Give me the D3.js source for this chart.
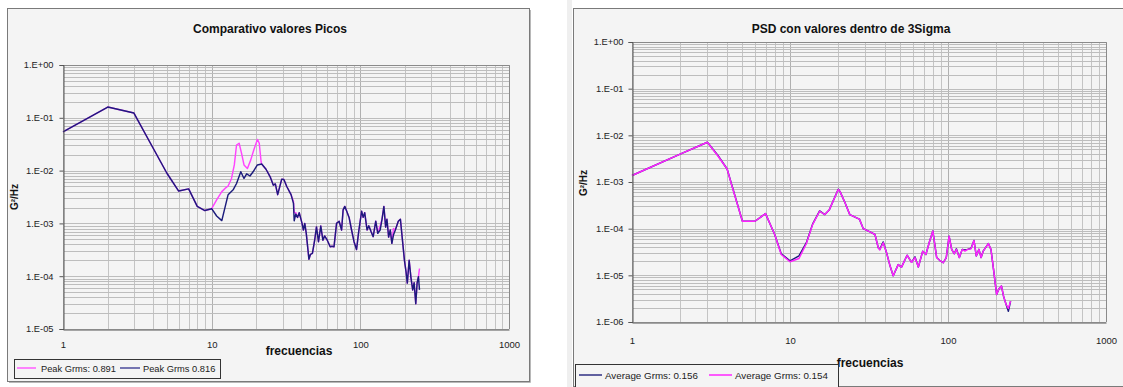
<!DOCTYPE html>
<html><head><meta charset="utf-8">
<script src="https://cdn.jsdelivr.net/npm/d3@7/dist/d3.min.js"></script>
<style>
body{margin:0;background:#fff;}
svg{display:block;font-family:"Liberation Sans",Arial,sans-serif;}
</style>
</head><body>
<svg id="c" width="1123" height="387"></svg>
<script>
// ---------- shared axis data ----------
const xTicks = [1, 10, 100, 1000];
const xTickLabels = ["1", "10", "100", "1000"];

// ---------- left chart: Comparativo valores Picos ----------
const leftYTicks = [1, 0.1, 0.01, 0.001, 0.0001, 0.00001];
const leftYTickLabels = ["1.E+00", "1.E-01", "1.E-02", "1.E-03", "1.E-04", "1.E-05"];

const leftPinkFreq = [1,2,3,4,5,6,7,8,9,10,10.8,11.7,12.3,12.9,13.6,14.2,14.7,15.3,15.9,16.5,17.4,18.3,19.2,20.3,20.9,21.5,21.7,
  23.2,24.7,26,26.8,27.8,29.6,30.6,32,34.2,35.5,35.9,36.8,37.8,38.8,40.5,41.4,42.3,43.3,45.1,46.2,47.6,49.3,50.7,52.3,54.2,56,57.5,59.5,
  62.7,64.5,66.5,69.2,72,74.8,76.6,78.6,81,84,87.3,90.7,94.3,97.5,102,104.5,107,111,114,118,122,127,131,136,140,144,148,151,155,159,
  163,167,172,180,186,194,198,203,207,213,219,225,230,236,241,246,250];
const leftPinkVal = [0.054,0.16,0.123,0.028,0.0089,0.0041,0.0045,0.0021,0.00175,0.0019,0.0028,0.004,0.0046,0.0051,0.0071,0.0128,0.0305,0.033,0.021,0.0128,0.011,0.0158,0.0245,0.039,0.033,0.0147,0.0133,
  0.0106,0.0077,0.0053,0.0056,0.0035,0.0069,0.0068,0.005,0.0035,0.0026,0.0016,0.0016,0.0013,0.0016,0.00101,0.00075,0.001,0.00064,0.00021,0.00026,0.00027,0.00048,0.00086,0.00045,0.00089,0.00048,0.00058,0.0005,
  0.00036,0.00037,0.00036,0.001,0.0011,0.00075,0.0018,0.0021,0.0017,0.0013,0.00075,0.00045,0.00032,0.0007,0.0017,0.0013,0.0016,0.00075,0.0009,0.0007,0.00056,0.0011,0.00065,0.0009,0.0012,0.0021,0.00085,0.0012,0.00055,0.00075,
  0.00042,0.0008,0.00075,0.0011,0.0012,0.00036,0.0002,0.00012,0.000074,0.0002,0.000094,0.000055,0.000075,0.00003,0.000075,0.000098,0.00014];

const leftNavyFreq = [1,2,3,4,5,6,7,8,9,10,10.8,11.7,12.9,14,14.7,15.7,16.5,17.2,18.1,19,20.3,21.7,
  23.2,24.7,26,26.8,27.8,29.6,30.6,32,34.2,35.5,35.9,36.8,37.8,38.8,40.5,41.4,42.3,43.3,45.1,46.2,47.6,49.3,50.7,52.3,54.2,56,57.5,59.5,
  62.7,64.5,66.5,69.2,72,74.8,76.6,78.6,81,84,87.3,90.7,94.3,97.5,102,104.5,107,111,114,118,122,127,131,136,140,144,148,151,155,159,
  163,167,172,180,186,194,198,203,207,213,219,225,230,236,241,246,250];
const leftNavyVal = [0.054,0.16,0.123,0.028,0.0089,0.0041,0.0045,0.0021,0.00175,0.0019,0.00138,0.00113,0.0035,0.0044,0.0057,0.0095,0.0071,0.0087,0.0079,0.0095,0.0128,0.0133,
  0.0106,0.0077,0.0053,0.0056,0.0035,0.0069,0.0068,0.005,0.0035,0.0024,0.00112,0.0015,0.0013,0.0016,0.00101,0.00075,0.001,0.00064,0.00021,0.00026,0.00027,0.00048,0.00086,0.00045,0.00089,0.00048,0.00058,0.0005,
  0.00036,0.00037,0.00036,0.001,0.0011,0.00075,0.0018,0.0021,0.0017,0.0013,0.00075,0.00045,0.00032,0.0007,0.0017,0.0013,0.0016,0.00075,0.0009,0.0007,0.00056,0.0011,0.00065,0.00075,0.0012,0.0021,0.00085,0.0012,0.00055,0.00075,
  0.00042,0.0006,0.00075,0.0011,0.0012,0.00036,0.0002,0.00012,0.000074,0.0002,0.000094,0.000055,0.000075,0.00003,0.000075,0.000098,0.000055];

// ---------- right chart: PSD con valores dentro de 3Sigma ----------
const rightYTicks = [1, 0.1, 0.01, 0.001, 0.0001, 0.00001, 0.000001];
const rightYTickLabels = ["1.E+00", "1.E-01", "1.E-02", "1.E-03", "1.E-04", "1.E-05", "1.E-06"];

const rightFreq = [1,2,3,3.5,4,4.3,5,6,7,8,8.8,10,11.4,12.7,13.9,15.4,16.6,17.7,20.2,20.7,22.3,23.9,26.4,27.5,29.1,32.8,34.5,36.2,37,38.9,40.9,
  43,45,48.4,50.8,55.1,58.8,61.8,64.9,69.2,72.5,76,80.2,84.8,88.5,93.3,97.5,101.6,105.5,109.5,113,118,123,128,133,140,146,151,157,162,167,180,187,
  195,203,210,218,225,233,241,249];
const rightNavyVal = [0.00138,0.0039,0.0071,0.0037,0.0019,0.00082,0.000144,0.000144,0.00021,0.000075,0.000029,0.0000205,0.000026,0.00005,0.000125,0.00024,0.0002,0.00025,0.0007,0.00063,0.00036,0.0002,0.00017,0.00016,0.0001,0.000082,0.000075,0.000039,0.000036,0.000052,0.00003,
  0.0000158,0.0000098,0.000017,0.000015,0.000027,0.000019,0.000025,0.000015,0.000033,0.000028,0.00005,0.000089,0.000024,0.000021,0.0000186,0.000024,0.000069,0.000036,0.000029,0.000037,0.000024,0.000036,0.000035,0.000036,0.000038,0.000056,0.000026,0.000036,0.000024,0.000033,0.000048,0.000036,
  0.000012,0.0000039,0.0000051,0.0000059,0.0000035,0.0000024,0.0000017,0.0000028];
const rightPinkVal = [0.00138,0.0039,0.0071,0.0036,0.0019,0.0008,0.000144,0.000144,0.00021,0.000075,0.000028,0.0000195,0.000023,0.000048,0.000122,0.000236,0.0002,0.00025,0.00069,0.00063,0.00036,0.0002,0.00017,0.00016,0.0001,0.000082,0.000075,0.000039,0.000035,0.00005,0.00003,
  0.0000158,0.0000098,0.000017,0.000015,0.000027,0.000019,0.000024,0.000015,0.000033,0.000028,0.00005,0.000089,0.000024,0.000021,0.0000186,0.000024,0.000069,0.000036,0.000029,0.000036,0.000024,0.000036,0.000033,0.000036,0.000037,0.000056,0.000026,0.000036,0.000024,0.000033,0.000048,0.000036,
  0.000012,0.0000039,0.0000051,0.0000059,0.0000035,0.0000024,0.00000195,0.0000028];

// ---------- drawing ----------
const svg = d3.select("#c");
svg.append("rect").attr("x",0).attr("y",0).attr("width",1123).attr("height",387).attr("fill","#ffffff");

function zip(f, v){ return f.map((d,i)=>({f:d, v:v[i]})); }

function minorValues(lo, hi){
  const out = [];
  for (let e = Math.round(Math.log10(lo)); e < Math.round(Math.log10(hi)); e++){
    for (let k = 1; k <= 9; k++) out.push(k * Math.pow(10, e));
  }
  out.push(hi);
  return out;
}

function drawChart(c){
  const g = svg.append("g");
  // frame
  g.append("rect").attr("x",c.frame[0]+0.5).attr("y",c.frame[1]+0.5)
    .attr("width",c.frame[2]-c.frame[0]).attr("height",c.frame[3]-c.frame[1])
    .attr("fill","#f4f4f4").attr("stroke","#7a7a7a").attr("stroke-width",1);
  g.append("path").attr("d",`M${c.frame[2]+1.5},${c.frame[1]+2}V${c.frame[3]+1.5}H${c.frame[0]+2}`)
    .attr("fill","none").attr("stroke","#b8b8b8").attr("stroke-width",1);

  const [L,T,R,B] = c.plot;
  const x = d3.scaleLog().domain([1,1000]).range([L,R]);
  const y = d3.scaleLog().domain([c.yTicks[c.yTicks.length-1], 1]).range([B,T]);

  // gridlines
  const gx = minorValues(1,1000);
  g.append("g").selectAll("line").data(gx).join("line")
    .attr("x1",d=>Math.round(x(d))+0.5).attr("x2",d=>Math.round(x(d))+0.5)
    .attr("y1",T).attr("y2",B)
    .attr("stroke",d=>xTicks.includes(d)?"#b0b0b0":"#c4c4c4").attr("stroke-width",1);
  const gy = minorValues(y.domain()[0],1);
  g.append("g").selectAll("line").data(gy).join("line")
    .attr("x1",L).attr("x2",R)
    .attr("y1",d=>Math.round(y(d))+0.5).attr("y2",d=>Math.round(y(d))+0.5)
    .attr("stroke","#bdbdbd").attr("stroke-width",1);

  // plot border (top/right)
  g.append("path").attr("d",`M${L},${T+0.5}H${R+0.5}V${B}`).attr("fill","none")
    .attr("stroke","#8a8a8a").attr("stroke-width",1);

  // series
  const line = d3.line().x(d=>x(d.f)).y(d=>y(d.v));
  c.series.forEach(s=>{
    g.append("path").datum(zip(s.f,s.v)).attr("d",line)
      .attr("fill","none").attr("stroke",s.color).attr("stroke-width",1.45)
      .attr("stroke-linejoin","round");
  });

  // y axis
  const ya = g.append("g").attr("transform",`translate(${L+0.5},0)`)
    .call(d3.axisLeft(y).tickValues(c.yTicks).tickFormat((d,i)=>c.yTickLabels[i]).tickSize(4).tickPadding(c.yPad));
  ya.select(".domain").attr("stroke","#555");
  ya.selectAll(".tick line").attr("stroke","#555");
  ya.selectAll("text").attr("fill","#222").style("font-size","9.3px").style("font-family","'Liberation Sans',Arial,sans-serif");

  // x axis
  const xa = g.append("g").attr("transform",`translate(0,${B+0.5})`)
    .call(d3.axisBottom(x).tickValues(xTicks).tickFormat((d,i)=>xTickLabels[i]).tickSize(0));
  xa.select(".domain").attr("stroke","#555");
  xa.selectAll("text").attr("dy",null).attr("y",c.xLabelDy).attr("fill","#222")
    .style("font-size","9.5px").style("font-family","'Liberation Sans',Arial,sans-serif");

  // title
  g.append("text").attr("x",c.titleX).attr("y",c.titleY).attr("text-anchor","middle")
    .style("font-size","12px").style("font-weight","bold").attr("fill","#111").text(c.title);
  // x title
  g.append("text").attr("x",c.xTitle[0]).attr("y",c.xTitle[1]).attr("text-anchor","middle")
    .style("font-size","12px").style("font-weight","bold").attr("fill","#111").text("frecuencias");
  // y title
  g.append("text").attr("transform",`translate(${c.yTitle[0]},${c.yTitle[1]}) rotate(-90)`)
    .attr("text-anchor","middle").style("font-size","10px").style("font-weight","bold").attr("fill","#111")
    .text("G²/Hz");

  // legend
  const lg = c.legend;
  g.append("rect").attr("x",lg.box[0]+0.5).attr("y",lg.box[1]+0.5)
    .attr("width",lg.box[2]-lg.box[0]).attr("height",lg.box[3]-lg.box[1])
    .attr("fill","#f4f4f4").attr("stroke","#333").attr("stroke-width",1);
  lg.items.forEach(it=>{
    g.append("line").attr("x1",it.x1).attr("x2",it.x2).attr("y1",lg.lineY).attr("y2",lg.lineY)
      .attr("stroke",it.color).attr("stroke-width",1.6);
    g.append("text").attr("x",it.tx).attr("y",lg.textY).style("font-size",lg.fs)
      .attr("fill","#222").text(it.label);
  });
}

// gray margin strip before right chart
svg.append("rect").attr("x",567).attr("y",0).attr("width",5).attr("height",387).attr("fill","#efefef");

drawChart({
  frame:[7,8,529,381],
  plot:[63,65,509,329],
  yTicks:leftYTicks, yTickLabels:leftYTickLabels, yPad:6,
  xLabelDy:18,
  title:"Comparativo valores Picos", titleX:270, titleY:33,
  xTitle:[299,355], yTitle:[18,197],
  series:[
    {f:leftPinkFreq, v:leftPinkVal, color:"#ff44ff"},
    {f:leftNavyFreq, v:leftNavyVal, color:"#1c1c7c"}
  ],
  legend:{box:[14,359,220,378], lineY:368, textY:371.5, fs:"9.3px",
    items:[
      {x1:17,x2:36,tx:41,color:"#ff66ff",label:"Peak Grms: 0.891"},
      {x1:120,x2:140,tx:143,color:"#5555a0",label:"Peak Grms 0.816"}
    ]}
});

drawChart({
  frame:[573,8,1129,386],
  plot:[632,42,1106,322],
  yTicks:rightYTicks, yTickLabels:rightYTickLabels, yPad:5,
  xLabelDy:21,
  title:"PSD con valores dentro de 3Sigma", titleX:851, titleY:33,
  xTitle:[870,367], yTitle:[587,183],
  series:[
    {f:rightFreq, v:rightNavyVal, color:"#1c1c7c"},
    {f:rightFreq, v:rightPinkVal, color:"#ff22ff"}
  ],
  legend:{box:[575,364,838,392], lineY:375, textY:378.5, fs:"9.8px",
    items:[
      {x1:579,x2:602,tx:605,color:"#3a3a8a",label:"Average Grms: 0.156"},
      {x1:709,x2:732,tx:735,color:"#ff33ff",label:"Average Grms: 0.154"}
    ]}
});
</script>
</body></html>
